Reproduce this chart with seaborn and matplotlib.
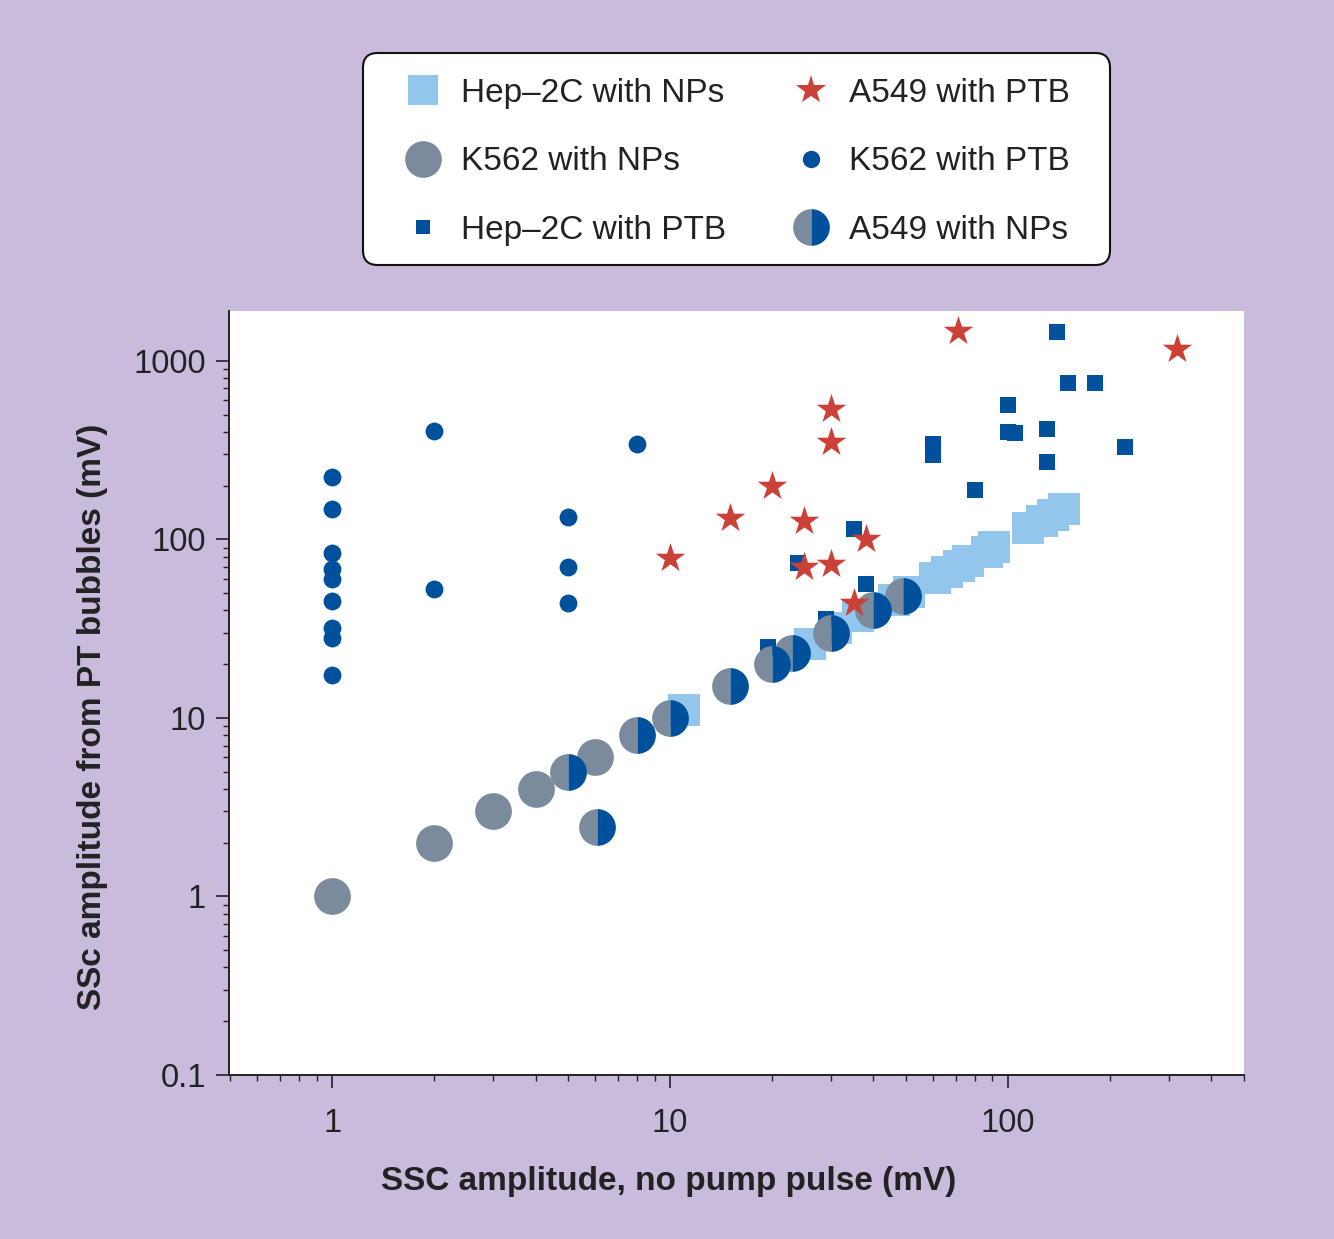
import matplotlib
matplotlib.use("Agg")
import matplotlib.pyplot as plt
from matplotlib.markers import MarkerStyle
from matplotlib.lines import Line2D
from matplotlib.patches import FancyBboxPatch
from matplotlib.ticker import NullFormatter, LogLocator
import pandas as pd
import seaborn as sns

# ---------------- data ----------------
hep_np_x = [11, 26, 31, 36, 46, 51, 61, 66, 71.5, 76, 87, 91, 115, 126, 136, 147]
hep_np_y = [11, 26, 32, 37, 46, 51, 61, 66, 71, 76, 85, 91, 115, 127, 136, 148]

hep_ptb_x = [140, 151, 181, 100, 100, 105, 131, 131, 222, 60, 60, 80, 35, 24, 38, 29, 19.5]
hep_ptb_y = [1440, 755, 750, 563, 400, 393, 413, 270, 331, 341, 296, 190, 114, 74, 56, 36, 25]

k562_np_x = [1, 2, 3, 4, 6]
k562_np_y = [1, 2, 3, 4, 6]

a549_np_x = [5, 6.1, 8, 10, 15, 20, 23, 30, 40, 49]
a549_np_y = [5, 2.44, 8, 10, 15, 20, 23, 30, 40, 48]

k562_ptb_x = [1, 1, 1, 1, 1, 1, 1, 1, 1, 2, 2, 8, 5, 5, 5]
k562_ptb_y = [223, 148, 84, 68.5, 60, 45, 32, 28, 17.3, 404, 52.7, 340, 134, 70, 44]

a549_ptb_x = [71, 317, 30, 30, 20, 15, 25, 10, 38, 25, 30, 35]
a549_ptb_y = [1470, 1160, 540, 350, 199, 131, 126, 79, 101, 70, 73, 44]

labels = ["Hep\u20132C with NPs", "K562 with NPs", "Hep\u20132C with PTB",
          "A549 with PTB", "K562 with PTB", "A549 with NPs"]
y_ticks = [0.1, 1, 10, 100, 1000]
y_ticklabels = ["0.1", "1", "10", "100", "1000"]
x_ticks = [1, 10, 100]
x_ticklabels = ["1", "10", "100"]

# ---------------- style ----------------
LIGHT = "#93C6EC"
GREY = "#7B8B9E"
DARK = "#00509B"
RED = "#CB4137"
BG = "#C8BBDC"

sns.set_style("ticks")
plt.rcParams["font.family"] = ["Liberation Sans", "DejaVu Sans"]

fig = plt.figure(figsize=(13.34, 12.39), dpi=100, facecolor=BG)
ax = fig.add_axes([229 / 1334, 1 - 1075 / 1239, (1244 - 229) / 1334, (1075 - 311) / 1239])
ax.set_facecolor("white")

def df(x, y):
    return pd.DataFrame({"x": x, "y": y})

sns.scatterplot(data=df(hep_np_x, hep_np_y), x="x", y="y", ax=ax, marker="s",
                s=500, color=LIGHT, linewidth=0, zorder=2)
sns.scatterplot(data=df(hep_ptb_x, hep_ptb_y), x="x", y="y", ax=ax, marker="s",
                s=120, color=DARK, linewidth=0, zorder=3)
sns.scatterplot(data=df(k562_np_x, k562_np_y), x="x", y="y", ax=ax, marker="o",
                s=700, color=GREY, linewidth=0, zorder=4)
sns.scatterplot(data=df(a549_np_x, a549_np_y), x="x", y="y", ax=ax,
                marker=MarkerStyle("o", fillstyle="left"),
                s=700, color=GREY, linewidth=0, zorder=5)
sns.scatterplot(data=df(a549_np_x, a549_np_y), x="x", y="y", ax=ax,
                marker=MarkerStyle("o", fillstyle="right"),
                s=700, color=DARK, linewidth=0, zorder=5)
sns.scatterplot(data=df(k562_ptb_x, k562_ptb_y), x="x", y="y", ax=ax, marker="o",
                s=165, color=DARK, linewidth=0, zorder=6)
sns.scatterplot(data=df(a549_ptb_x, a549_ptb_y), x="x", y="y", ax=ax, marker="*",
                s=500, color=RED, linewidth=0, zorder=7)

ax.set_xscale("log")
ax.set_yscale("log")
ax.set_xlim(0.495, 500)
ax.set_ylim(0.1, 1900)

ax.set_xticks(x_ticks)
ax.set_xticklabels(x_ticklabels)
ax.set_yticks(y_ticks)
ax.set_yticklabels(y_ticklabels)
ax.xaxis.set_minor_locator(LogLocator(base=10, subs=[2, 3, 4, 5, 6, 7, 8, 9]))
ax.yaxis.set_minor_locator(LogLocator(base=10, subs=[2, 3, 4, 5, 6, 7, 8, 9]))
ax.xaxis.set_minor_formatter(NullFormatter())
ax.yaxis.set_minor_formatter(NullFormatter())

for side in ["top", "right"]:
    ax.spines[side].set_visible(False)
for side in ["left", "bottom"]:
    ax.spines[side].set_color("#222222")
    ax.spines[side].set_linewidth(1.4)

ax.tick_params(which="major", direction="out", length=9.5, width=1.2, colors="#222222",
               labelsize=23.5, labelcolor="#222222")
ax.tick_params(which="minor", direction="out", length=4.5, width=1.0, colors="#222222")
ax.tick_params(axis="x", which="major", pad=14)
ax.tick_params(axis="y", which="major", pad=7)

ax.set_xlabel("SSC amplitude, no pump pulse (mV)", fontsize=24, fontweight="bold",
              color="#222222")
ax.set_ylabel("SSc amplitude from PT bubbles (mV)", fontsize=24, fontweight="bold",
              color="#222222")
ax.xaxis.set_label_coords(0.4335, -0.119)
ax.yaxis.set_label_coords(-0.119, 0.4686)

# legend frame box (decoration)
W, H = 1334.0, 1239.0
frame = FancyBboxPatch((363 / W, 1 - 265 / H), (1110 - 363) / W, (265 - 53) / H,
                       boxstyle="round,pad=0,rounding_size=0.011",
                       mutation_aspect=W / H,
                       transform=fig.transFigure, facecolor="white",
                       edgecolor="#111111", linewidth=1.5, zorder=1)
fig.patches.append(frame)

handles = [
    Line2D([], [], linestyle="none", marker="s", markersize=22.3, color=LIGHT, markeredgewidth=0),
    Line2D([], [], linestyle="none", marker="o", markersize=26.4, color=GREY, markeredgewidth=0),
    Line2D([], [], linestyle="none", marker="s", markersize=10.5, color=DARK, markeredgewidth=0),
    Line2D([], [], linestyle="none", marker="*", markersize=22, color=RED, markeredgewidth=0),
    Line2D([], [], linestyle="none", marker="o", markersize=12.5, color=DARK, markeredgewidth=0),
    Line2D([], [], linestyle="none", marker="o", markersize=26.4, markerfacecolor=GREY,
           markerfacecoloralt=DARK, fillstyle="left", markeredgewidth=0),
]
leg = fig.legend(handles, labels, ncol=2, loc="upper left",
                 bbox_to_anchor=(363 / W, 1 - 53 / H), bbox_transform=fig.transFigure,
                 borderaxespad=0, fontsize=24, frameon=False,
                 borderpad=0.75, labelspacing=1.12, handlelength=2.1, handletextpad=0.1,
                 columnspacing=1.49)
leg.set_zorder(3)
for t in leg.get_texts():
    t.set_color("#222222")

fig.savefig("out.png", dpi=100, facecolor=BG)
